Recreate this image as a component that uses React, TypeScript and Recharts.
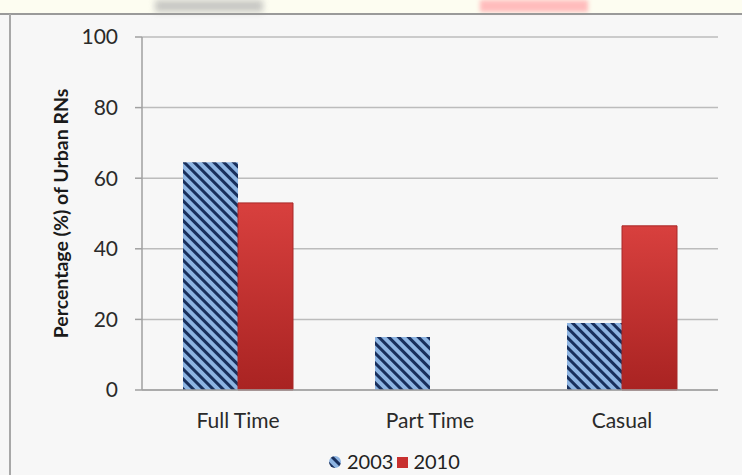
import { Bar, BarChart, CartesianGrid, Label, XAxis, YAxis } from 'recharts'

const categories = ['Full Time', 'Part Time', 'Casual']
const values2003 = [64.5, 15, 19]
const values2010 = [53, 0, 46.5]
const yTicks = [0, 20, 40, 60, 80, 100]

const data = categories.map((name, i) => ({
  name,
  y2003: values2003[i],
  y2010: values2010[i],
}))

const font = 'Lato, "Open Sans", sans-serif'

export default function App() {
  return (
    <div
      style={{
        position: 'fixed',
        left: 0,
        top: 0,
        width: 742,
        height: 475,
        overflow: 'hidden',
        background: '#f7f7f7',
        fontFamily: font,
      }}
    >
      {/* cream band on top, with the blurred leftovers of the page header */}
      <div style={{ position: 'absolute', left: 0, top: 0, width: 742, height: 13, background: '#fdfdf1' }} />
      <div style={{ position: 'absolute', left: 155, top: 0, width: 108, height: 12, background: '#c8c8c4', filter: 'blur(3px)' }} />
      <div style={{ position: 'absolute', left: 480, top: 0, width: 108, height: 12, background: '#ffbcbc', filter: 'blur(2px)' }} />
      <div style={{ position: 'absolute', left: 0, top: 13, width: 742, height: 2, background: '#9a9a9a' }} />
      <div style={{ position: 'absolute', left: 9, top: 14, width: 2, height: 461, background: '#a8a8a8' }} />

      <div style={{ position: 'absolute', left: 0, top: 0 }}>
        <BarChart
          width={742}
          height={475}
          data={data}
          margin={{ top: 37, right: 24, bottom: 55, left: 102 }}
          barSize={55}
          barGap={0}
        >
          <defs>
            <pattern
              id="hatch"
              width="7"
              height="7"
              patternUnits="userSpaceOnUse"
              patternTransform="rotate(-45)"
            >
              <rect width="7" height="7" fill="#8db4e2" />
              <rect width="3" height="7" fill="#182f5c" />
            </pattern>
            <linearGradient id="redGrad" x1="0" y1="0" x2="0" y2="1">
              <stop offset="0%" stopColor="#d8403e" />
              <stop offset="100%" stopColor="#a92322" />
            </linearGradient>
          </defs>
          <CartesianGrid vertical={false} stroke="#bcbcbc" strokeWidth={1.5} />
          <XAxis
            dataKey="name"
            height={30}
            tickLine={false}
            axisLine={{ stroke: '#a0a0a0', strokeWidth: 1.5 }}
            tickMargin={17}
            tick={{ fontSize: 21, fill: '#2a2a2a', fontFamily: font }}
          />
          <YAxis
            width={40}
            domain={[0, 100]}
            ticks={yTicks}
            interval={0}
            tickSize={7}
            tickMargin={17}
            tickLine={{ stroke: '#a0a0a0', strokeWidth: 1.5 }}
            axisLine={{ stroke: '#a0a0a0', strokeWidth: 1.5 }}
            tick={{ fontSize: 21, fill: '#2a2a2a', fontFamily: font }}
          >
            <Label
              value="Percentage (%) of Urban RNs"
              angle={-90}
              position="center"
              dx={-61}
              style={{ fontSize: 19.5, fontWeight: 700, fill: '#1a1a1a', fontFamily: font }}
            />
          </YAxis>
          <Bar
            dataKey="y2003"
            fill="url(#hatch)"
            isAnimationActive={false}
          />
          <Bar
            dataKey="y2010"
            fill="url(#redGrad)"
            stroke="#a82828"
            strokeWidth={1}
            isAnimationActive={false}
          />
        </BarChart>
      </div>

      {/* legend */}
      <div
        style={{
          position: 'absolute',
          left: 328,
          top: 450,
          display: 'flex',
          alignItems: 'center',
          fontSize: 20,
          color: '#222',
          lineHeight: '23px',
        }}
      >
        <svg width={15} height={14} style={{ marginRight: 4 }}>
          <circle cx={7} cy={7} r={6} fill="url(#hatch)" />
        </svg>
        <span>2003</span>
        <svg width={14} height={14} style={{ marginLeft: 3, marginRight: 3 }}>
          <rect x={1} y={2} width={11} height={11} fill="#c8302f" />
        </svg>
        <span>2010</span>
      </div>
    </div>
  )
}
